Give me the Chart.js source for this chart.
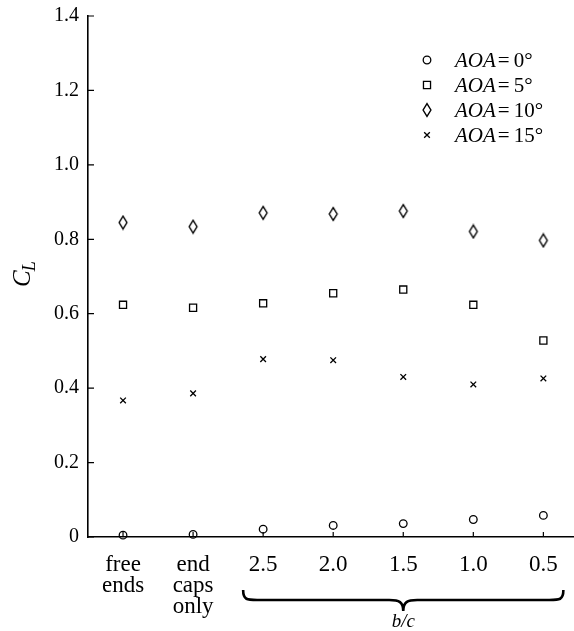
<!DOCTYPE html>
<html>
<head>
<meta charset="utf-8">
<script src="https://cdn.jsdelivr.net/npm/chart.js@4/dist/chart.umd.min.js"></script>
<style>
html, body { margin: 0; padding: 0; background: #fff; overflow: hidden; }
</style>
</head>
<body>
<canvas id="myChart" width="586" height="631"></canvas>
<script>
// categories along the bottom (multi-line labels as arrays)
const categories = [['free', 'ends'], ['end', 'caps', 'only'], '2.5', '2.0', '1.5', '1.0', '0.5'];
// lift coefficient, one array per angle of attack
const aoa0 = [0.005, 0.007, 0.021, 0.031, 0.036, 0.047, 0.058];
const aoa5 = [0.624, 0.616, 0.628, 0.655, 0.665, 0.624, 0.528];
const aoa10 = [0.845, 0.834, 0.871, 0.868, 0.876, 0.821, 0.797];
const aoa15 = [0.367, 0.386, 0.478, 0.475, 0.430, 0.410, 0.426];
const aoaLabels = ['0°', '5°', '10°', '15°'];
const yTicks = [0, 0.2, 0.4, 0.6, 0.8, 1.0, 1.2, 1.4];

const serif = "'Liberation Serif', 'Times New Roman', serif";
Chart.defaults.font.family = serif;
Chart.defaults.color = '#000';

function marker(ctx, style, r, x, y) {
    ctx.beginPath();
    if (style === 'circle') {
        ctx.arc(x, y, r, 0, Math.PI * 2);
    } else if (style === 'rect') {
        const s = r * Math.SQRT1_2;
        ctx.rect(x - s, y - s, 2 * s, 2 * s);
    } else if (style === 'diamond') {
        ctx.moveTo(x, y - r); ctx.lineTo(x + r * 0.62, y); ctx.lineTo(x, y + r); ctx.lineTo(x - r * 0.62, y); ctx.closePath();
    } else {
        const s = r * Math.SQRT1_2;
        ctx.moveTo(x - s, y - s); ctx.lineTo(x + s, y + s);
        ctx.moveTo(x + s, y - s); ctx.lineTo(x - s, y + s);
    }
    ctx.stroke();
}

// tall narrow diamond used as a point style
const diamond = document.createElement('canvas');
diamond.width = 12; diamond.height = 16;
(function () {
    const c = diamond.getContext('2d');
    c.strokeStyle = '#000';
    c.lineWidth = 1.4;
    marker(c, 'diamond', 6.3, 6, 8);
})();

// inward ticks, legend, y title and the b/c brace
const decorations = {
    id: 'decorations',
    afterDraw(chart) {
        const ctx = chart.ctx;
        const x = chart.scales.x, y = chart.scales.y;
        ctx.save();
        ctx.strokeStyle = '#000';
        ctx.fillStyle = '#000';
        ctx.lineWidth = 1.2;
        ctx.beginPath();
        yTicks.forEach(v => {
            const py = y.getPixelForValue(v);
            ctx.moveTo(y.right, py); ctx.lineTo(y.right + 6, py);
        });
        categories.forEach((c, i) => {
            const px = x.getPixelForValue(i);
            ctx.moveTo(px, x.top); ctx.lineTo(px, x.top - 5);
        });
        ctx.stroke();

        // legend
        chart.data.datasets.forEach((ds, i) => {
            const ly = 60 + i * 25;
            ctx.lineWidth = 1.3;
            if (ds.pointStyle instanceof HTMLCanvasElement) {
                ctx.drawImage(ds.pointStyle, 427 - ds.pointStyle.width / 2, ly - ds.pointStyle.height / 2);
            } else {
                marker(ctx, ds.pointStyle, ds.pointRadius, 427, ly);
            }
            ctx.textBaseline = 'middle';
            ctx.textAlign = 'left';
            ctx.font = 'italic 21px ' + serif;
            ctx.fillText('AOA', 455, ly + 1);
            const w = ctx.measureText('AOA').width;
            ctx.font = '21px ' + serif;
            ctx.fillText('=', 455 + w + 2, ly + 1);
            ctx.fillText(aoaLabels[i], 455 + w + 18, ly + 1);
        });

        // C_L axis title
        ctx.save();
        ctx.translate(30, 287);
        ctx.rotate(-Math.PI / 2);
        ctx.textBaseline = 'alphabetic';
        ctx.textAlign = 'left';
        ctx.font = 'italic 25px ' + serif;
        ctx.fillText('C', 0, 0);
        const cw = ctx.measureText('C').width;
        ctx.font = 'italic 18px ' + serif;
        ctx.fillText('L', cw - 1, 5);
        ctx.restore();

        // brace under the b/c categories
        const x1 = x.getPixelForValue(2) - 20;
        const x2 = x.getPixelForValue(6) + 20;
        const xc = x.getPixelForValue(4);
        const top = 590, mid = 600, tip = 611;
        ctx.lineWidth = 2.6;
        ctx.beginPath();
        ctx.moveTo(x1, top);
        ctx.bezierCurveTo(x1, mid, x1 + 4, mid, x1 + 14, mid);
        ctx.lineTo(xc - 14, mid);
        ctx.bezierCurveTo(xc - 4, mid, xc, mid + 2, xc, tip);
        ctx.bezierCurveTo(xc, mid + 2, xc + 4, mid, xc + 14, mid);
        ctx.lineTo(x2 - 14, mid);
        ctx.bezierCurveTo(x2 - 4, mid, x2, mid, x2, top);
        ctx.stroke();

        ctx.textAlign = 'center';
        ctx.textBaseline = 'alphabetic';
        ctx.font = 'italic 19px ' + serif;
        ctx.fillText('b/c', xc, 627);
        ctx.restore();
    }
};

const ctx = document.getElementById('myChart').getContext('2d');
const point = (data, style, r) => ({
    data,
    showLine: false,
    pointStyle: style,
    pointRadius: r,
    pointBorderWidth: 1.3,
    borderColor: '#000',
    pointBorderColor: '#000',
    pointBackgroundColor: 'rgba(0,0,0,0)',
    clip: false
});

const chart = new Chart(ctx, {
    type: 'line',
    data: {
        labels: categories,
        datasets: [
            point(aoa0, 'circle', 3.8),
            point(aoa5, 'rect', 5),
            point(aoa10, diamond, 6.3),
            point(aoa15, 'crossRot', 4)
        ]
    },
    options: {
        responsive: false,
        animation: false,
        layout: { padding: { top: 16, right: 1 } },
        plugins: { legend: { display: false }, tooltip: { enabled: false } },
        scales: {
            x: {
                offset: true,
                grid: { display: false, drawTicks: false },
                border: { display: true, color: '#000', width: 1.6 },
                ticks: {
                    autoSkip: false, maxRotation: 0, padding: 17,
                    font: { size: 23, lineHeight: 0.92 }
                },
                afterFit(scale) { scale.height = 94; }
            },
            y: {
                min: 0, max: 1.4,
                grid: { display: false, drawTicks: false },
                border: { display: true, color: '#000', width: 1.6 },
                afterBuildTicks(scale) { scale.ticks = yTicks.map(v => ({ value: v })); },
                ticks: {
                    padding: 9,
                    font: { size: 20 },
                    callback: v => v === 0 ? '0' : v.toFixed(1)
                },
                afterFit(scale) {
                    scale.width = 88;
                    scale.paddingTop = 0;
                    scale.paddingBottom = 0;
                }
            }
        }
    },
    plugins: [decorations]
});
</script>
</body>
</html>
